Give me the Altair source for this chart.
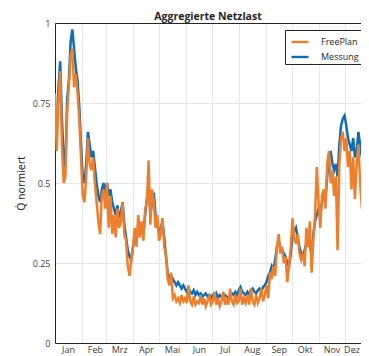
import altair as alt
import pandas as pd

# day of year (0 = 1 Jan), every second day
days = list(range(0, 365, 2))

messung = [
    0.72, 0.66, 0.80, 0.88, 0.70, 0.58, 0.55, 0.76, 0.82, 0.94, 0.98, 0.92, 0.86, 0.82, 0.74, 0.62,
    0.52, 0.50, 0.56, 0.66, 0.62, 0.58, 0.60, 0.55, 0.50, 0.46, 0.44, 0.48, 0.50, 0.47, 0.50,
    0.46, 0.48, 0.44, 0.42, 0.40, 0.43, 0.39, 0.41, 0.44, 0.37, 0.33, 0.29, 0.27, 0.26, 0.30,
    0.34, 0.32, 0.35, 0.37, 0.36, 0.34, 0.40, 0.45, 0.50, 0.40, 0.44, 0.47, 0.40, 0.38, 0.34,
    0.36, 0.38, 0.33, 0.27, 0.22, 0.20, 0.21, 0.20, 0.19, 0.18, 0.19, 0.18, 0.17, 0.18, 0.17,
    0.16, 0.17, 0.16, 0.155, 0.165, 0.15, 0.16, 0.15, 0.155, 0.145, 0.15, 0.155, 0.145, 0.15, 0.14,
    0.15, 0.145, 0.155, 0.14, 0.15, 0.145, 0.14, 0.15, 0.145, 0.14, 0.15, 0.155, 0.15, 0.16, 0.15,
    0.165, 0.175, 0.16, 0.155, 0.15, 0.16, 0.15, 0.165, 0.17, 0.16, 0.155, 0.165, 0.17, 0.16, 0.175,
    0.18, 0.19, 0.21, 0.22, 0.24, 0.23, 0.26, 0.30, 0.32, 0.30, 0.29, 0.28, 0.27, 0.25, 0.24,
    0.28, 0.33, 0.35, 0.36, 0.33, 0.30, 0.28, 0.27, 0.29, 0.31, 0.33, 0.30, 0.28, 0.34, 0.38,
    0.40, 0.42, 0.40, 0.44, 0.46, 0.45, 0.52, 0.58, 0.60, 0.56, 0.54, 0.56, 0.52, 0.62, 0.68,
    0.70, 0.71, 0.68, 0.64, 0.62, 0.60, 0.64, 0.58, 0.60, 0.66, 0.62, 0.58, 0.64, 0.68, 0.62, 0.58, 0.55,
]

freeplan = [
    0.78, 0.60, 0.76, 0.85, 0.62, 0.50, 0.52, 0.72, 0.80, 0.90, 0.92, 0.80, 0.84, 0.78, 0.70, 0.58,
    0.46, 0.44, 0.52, 0.64, 0.56, 0.54, 0.58, 0.50, 0.44, 0.38, 0.34, 0.46, 0.48, 0.42, 0.50,
    0.36, 0.46, 0.34, 0.40, 0.33, 0.42, 0.36, 0.38, 0.44, 0.34, 0.32, 0.24, 0.21, 0.26, 0.30,
    0.36, 0.30, 0.40, 0.33, 0.38, 0.32, 0.42, 0.44, 0.57, 0.37, 0.48, 0.44, 0.36, 0.40, 0.32,
    0.34, 0.39, 0.30, 0.28, 0.20, 0.18, 0.22, 0.14, 0.15, 0.13, 0.14, 0.125, 0.15, 0.13, 0.14,
    0.125, 0.18, 0.13, 0.12, 0.145, 0.12, 0.13, 0.125, 0.15, 0.12, 0.14, 0.115, 0.13, 0.15, 0.12,
    0.13, 0.16, 0.12, 0.14, 0.115, 0.13, 0.16, 0.12, 0.135, 0.12, 0.17, 0.13, 0.12, 0.15, 0.125,
    0.13, 0.17, 0.12, 0.14, 0.125, 0.15, 0.12, 0.17, 0.13, 0.12, 0.15, 0.125, 0.14, 0.17, 0.13,
    0.15, 0.18, 0.14, 0.22, 0.20, 0.24, 0.21, 0.30, 0.34, 0.28, 0.30, 0.25, 0.27, 0.19, 0.24,
    0.30, 0.39, 0.33, 0.31, 0.34, 0.28, 0.26, 0.28, 0.24, 0.36, 0.30, 0.38, 0.22, 0.32, 0.40,
    0.55, 0.44, 0.36, 0.46, 0.48, 0.42, 0.56, 0.60, 0.50, 0.54, 0.46, 0.52, 0.29, 0.56, 0.64,
    0.66, 0.60, 0.64, 0.55, 0.60, 0.48, 0.58, 0.45, 0.56, 0.62, 0.50, 0.42, 0.56, 0.60, 0.46, 0.38, 0.30,
]

series_names = ["FreePlan", "Messung"]
series_colors = ["#ED7F2C", "#0D6DB7"]
month_starts = [0, 31, 59, 90, 120, 151, 181, 212, 243, 273, 304, 334]
month_names = ["Jan", "Feb", "Mrz", "Apr", "Mai", "Jun", "Jul", "Aug", "Sep", "Okt", "Nov", "Dez"]
y_ticks = [0, 0.25, 0.5, 0.75, 1]

df = pd.DataFrame({
    "day": days + days,
    "value": messung + freeplan,
    "series": ["Messung"] * len(days) + ["FreePlan"] * len(days),
})

FONT = "Open Sans"
month_expr = "[{}][indexof([{}], datum.value)]".format(
    ",".join("'%s'" % m for m in month_names), ",".join(str(v) for v in month_starts)
)

xscale = alt.Scale(domain=[0, 353], nice=False, zero=False)
x_bottom = alt.X(
    "day:Q", scale=xscale,
    axis=alt.Axis(
        values=month_starts, labelExpr=month_expr, title=None, ticks=False,
        labelOffset={"condition": {"test": "datum.value == %d" % month_starts[-1], "value": 7},
                     "value": 13},
        labelOverlap=False, labelFlush=False, labelPadding=2,
    ),
)
x_top = alt.X(
    "day:Q", scale=xscale,
    axis=alt.Axis(orient="top", labels=False, ticks=False, grid=False, title=None, domain=True,
                  minExtent=0, maxExtent=0),
)
y = alt.Y(
    "value:Q",
    scale=alt.Scale(domain=[0, 1], nice=False),
    axis=alt.Axis(values=y_ticks, labelExpr="'' + datum.value", title="Q\u0307 normiert",
                  ticks=False, labelPadding=5, titlePadding=6, titleFont="Noto Sans"),
)
color = alt.Color(
    "series:N",
    scale=alt.Scale(domain=series_names, range=series_colors),
    legend=alt.Legend(
        title=None, orient="none", legendX=230, legendY=7,
        strokeColor="#262626", fillColor="white", padding=2, symbolOffset=3,
        symbolType="stroke", symbolSize=289, symbolStrokeWidth=2.4,
        labelFontSize=9, labelFont=FONT, labelColor="#262626",
        labelOffset=11, rowPadding=-5, cornerRadius=0,
    ),
)

layer_blue = alt.Chart(df).transform_filter("datum.series == 'Messung'").mark_line(
    strokeWidth=2.5, clip=True).encode(x=x_bottom, y=y, color=color)
layer_orange = alt.Chart(df).transform_filter("datum.series == 'FreePlan'").mark_line(
    strokeWidth=2.5, clip=True).encode(x=x_top, y=y, color=color)

chart = alt.layer(layer_blue, layer_orange).resolve_axis(x="independent").properties(
    width=306,
    height=320,
    title=alt.TitleParams("Aggregierte Netzlast", fontSize=10.5, font=FONT, fontWeight="bold",
                          color="#262626", anchor="middle", offset=4, dy=7),
    padding={"left": 47, "top": 15, "right": 0, "bottom": 13},
    autosize=alt.AutoSizeParams(type="none"),
).configure_view(
    stroke=None
).configure_axis(
    labelFont=FONT, labelFontSize=9, labelColor="#404040",
    titleFont=FONT, titleFontSize=10.5, titleColor="#262626", titleFontWeight="normal",
    gridColor="#E6E6E6", gridWidth=1, domainColor="#262626", domainWidth=1,
)

chart.save("out.html", embed_options={"renderer": "svg", "actions": False})
